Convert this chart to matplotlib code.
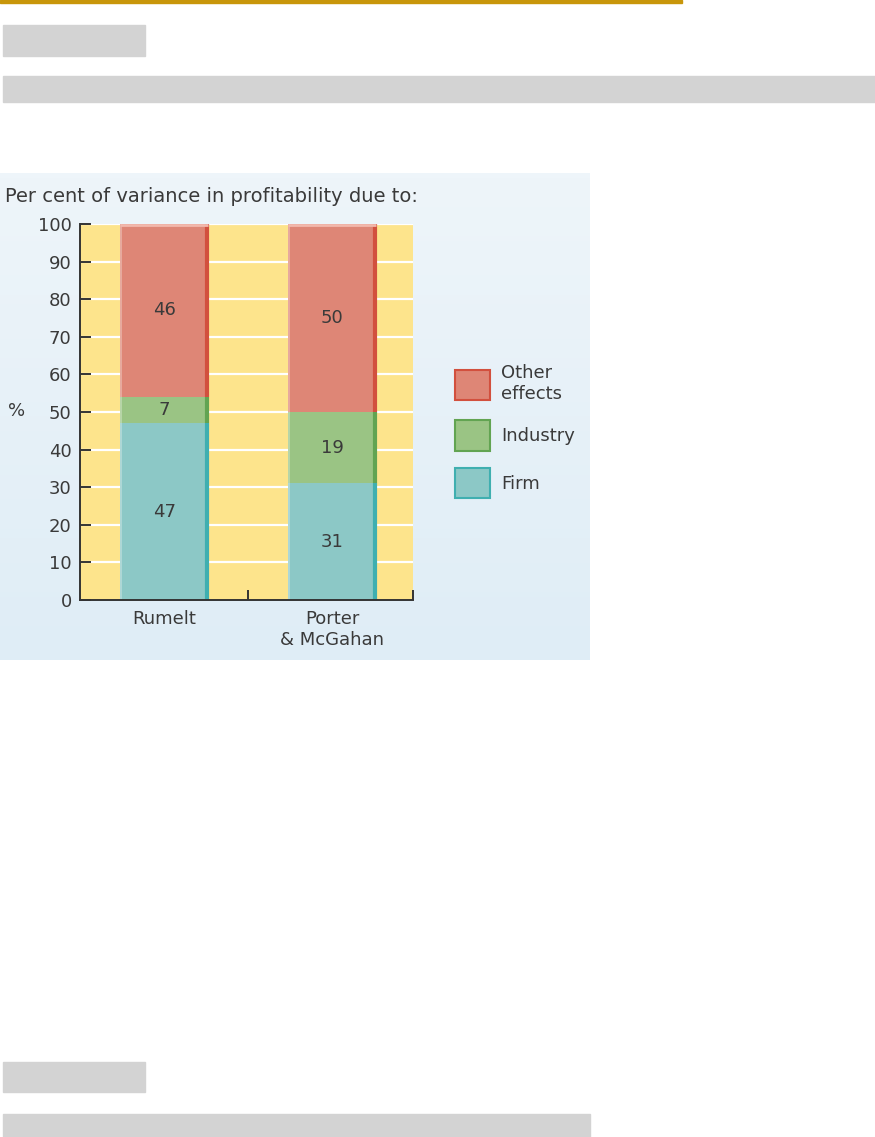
import matplotlib.pyplot as plt
import numpy as np
from matplotlib.patches import Rectangle
from matplotlib.colors import LinearSegmentedColormap

W, H = 875, 1137

studies = ['Rumelt', 'Porter\n& McGahan']
firm = [47, 31]
industry = [7, 19]
other = [46, 50]
legend_labels = ['Other\neffects', 'Industry', 'Firm']
yticks = list(range(0, 101, 10))

c_other, e_other = '#DE8676', '#D2503E'
c_ind, e_ind = '#9AC484', '#62A452'
c_firm, e_firm = '#8CC8C6', '#3FAFB0'
yellow = '#FDE48C'
txt = '#3A3A3A'
FS = 13


def fx(x):
    return x / W


def fy(y):
    return 1 - y / H


fig = plt.figure(figsize=(W / 100, H / 100), dpi=100)
fig.patch.set_facecolor('white')

# page furniture: orange rule and grey placeholder blocks
fig.patches.append(Rectangle((fx(0), fy(3)), fx(682), 3 / H, transform=fig.transFigure,
                             color='#C8960A', zorder=0))
for x0, y0, x1, y1 in [(3, 25, 145, 56), (3, 76, 875, 102), (3, 1062, 145, 1092), (3, 1114, 590, 1137)]:
    fig.patches.append(Rectangle((fx(x0), fy(y1)), fx(x1 - x0), (y1 - y0) / H,
                                 transform=fig.transFigure, color='#D3D3D3', zorder=0))

# light blue panel behind the chart
bg = fig.add_axes([fx(0), fy(660), fx(590), (660 - 173) / H], zorder=0)
grad = np.linspace(0, 1, 100)[:, None] * np.ones((1, 10))
cmap = LinearSegmentedColormap.from_list('bg', ['#EEF5FA', '#DFEDF6'])
bg.imshow(grad, aspect='auto', cmap=cmap, extent=[0, 1, 0, 1])
bg.axis('off')

fig.text(fx(5), fy(196), 'Per cent of variance in profitability due to:', fontsize=14,
         color=txt, va='center', ha='left')
fig.text(fx(8), fy(411), '%', fontsize=FS, color=txt, va='center', ha='left')

ax = fig.add_axes([fx(80), fy(600), fx(413 - 80), (600 - 224) / H], zorder=2)
ax.set_facecolor(yellow)
x = np.arange(len(studies))
bw = 0.525

ax.set_ylim(0, 100)
ax.set_xlim(-0.5, 1.48)
for t in yticks[1:]:
    ax.axhline(t, color='white', lw=1.6, zorder=1)

b1 = ax.bar(x, firm, bw, color=c_firm, lw=0, zorder=2)
b2 = ax.bar(x, industry, bw, bottom=firm, color=c_ind, lw=0, zorder=2)
bot = np.array(firm) + np.array(industry)
b3 = ax.bar(x, other, bw, bottom=bot, color=c_other, lw=0, zorder=2)

# darker right-hand edges of the bars
for vals, base, ec in [(firm, np.zeros(2), e_firm), (industry, np.array(firm), e_ind), (other, bot, e_other)]:
    ax.vlines(x + bw / 2 - 0.008, base, base + np.array(vals), color=ec, lw=3, zorder=3)
    ax.vlines(x - bw / 2 + 0.004, base, base + np.array(vals), color='white', lw=1.2, alpha=0.35, zorder=3)
# pale strip along the top of each bar
ax.hlines(bot + np.array(other) - 0.2, x - bw / 2, x + bw / 2, color='#F2B8AC', lw=2, zorder=3)

for vals, base in [(firm, np.zeros(2)), (industry, np.array(firm)), (other, bot)]:
    for xi, v, b0 in zip(x, vals, base):
        ax.text(xi, b0 + v / 2, str(v), ha='center', va='center', fontsize=FS, color=txt, zorder=4)

for s in ['top', 'right']:
    ax.spines[s].set_visible(False)
for s in ['left', 'bottom']:
    ax.spines[s].set_color('#333333')
    ax.spines[s].set_linewidth(1.4)
    ax.spines[s].set_zorder(5)

ax.set_yticks(yticks)
ax.tick_params(axis='y', direction='in', length=8, width=1.4, color='#333333',
               labelsize=FS, labelcolor=txt, pad=6)
ax.set_xticks(x)
ax.set_xticklabels(studies, fontsize=FS, color=txt, linespacing=1.25)
ax.tick_params(axis='x', length=0, pad=7)
ax.set_xticks([0.5, 1.48], minor=True)
ax.tick_params(axis='x', which='minor', direction='in', length=7, width=1.4, color='#333333')

handles = [Rectangle((0, 0), 1, 1, facecolor=c, edgecolor=e, lw=1.5)
           for c, e in [(c_other, e_other), (c_ind, e_ind), (c_firm, e_firm)]]
leg = ax.legend(handles, legend_labels, loc='upper left',
                bbox_to_anchor=(fx(446), fy(355)), bbox_transform=fig.transFigure,
                frameon=False, fontsize=FS, handlelength=1.95, handleheight=2.2,
                handletextpad=0.6, labelspacing=0.97, borderpad=0, labelcolor=txt)

fig.savefig('out.png', dpi=100)
